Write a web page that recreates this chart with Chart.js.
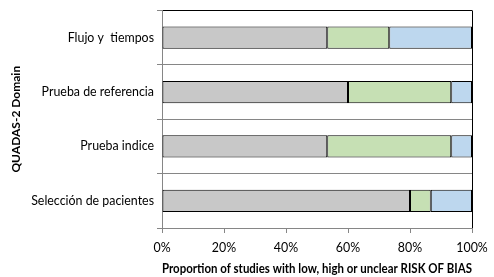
<!DOCTYPE html>
<html>
<head>
<meta charset="utf-8">
<script src="https://cdn.jsdelivr.net/npm/chart.js@4.4.0/dist/chart.umd.min.js"></script>
<style>
  html, body { margin: 0; padding: 0; background: #fff; }
  #wrap { width: 494px; height: 277px; }
</style>
</head>
<body>
<div id="wrap"><canvas id="chart1"></canvas></div>
<script>
// QUADAS-2 domains, top to bottom
const domains = ['Flujo y  tiempos', 'Prueba de referencia', 'Prueba indice', 'Selección de pacientes'];
const lowRisk = [53.3, 60.0, 53.3, 80.0];
const highRisk = [20.0, 33.3, 40.0, 6.7];
const unclearRisk = [26.7, 6.7, 6.7, 13.3];
const xTicks = [0, 20, 40, 60, 80, 100];

Chart.defaults.font.family = 'Lato, "Open Sans", sans-serif';
Chart.defaults.font.size = 12;
Chart.defaults.color = '#000';

const barStyle = {
    borderColor: '#000',
    borderWidth: 1,
    borderSkipped: false,
    barPercentage: 0.41,
    categoryPercentage: 1.0,
};

const chart1 = new Chart(document.querySelector('#chart1'), {
    type: 'bar',
    data: {
        labels: domains,
        datasets: [
            { label: 'Low', data: lowRisk, backgroundColor: '#c8c8c8', ...barStyle },
            { label: 'High', data: highRisk, backgroundColor: '#c6e0b4', ...barStyle },
            { label: 'Unclear', data: unclearRisk, backgroundColor: '#bdd7ee', ...barStyle },
        ]
    },
    options: {
        indexAxis: 'y',
        responsive: true,
        maintainAspectRatio: false,
        animation: false,
        layout: { padding: { left: 9, right: 22, top: 5, bottom: 0 } },
        scales: {
            x: {
                stacked: true,
                min: 0,
                max: 100,
                afterBuildTicks: (scale) => { scale.ticks = xTicks.map(v => ({ value: v })); },
                afterFit: (scale) => {
                    scale.height = 49;
                    scale.paddingLeft = 0;
                    scale.paddingRight = 0;
                },
                border: { color: '#868686' },
                grid: {
                    color: (ctx) => ctx.tick && ctx.tick.value === 100 ? '#000' : 'rgba(0,0,0,0)',
                    tickColor: '#868686',
                    tickLength: 5,
                },
                ticks: {
                    padding: 8,
                    font: { size: 12.4 },
                    callback: (v) => v + '%',
                },
                title: {
                    display: true,
                    text: 'Proportion of studies with low, high or unclear RISK OF BIAS',
                    font: { weight: 'bold', size: 13 },
                    padding: { top: 2, bottom: 0 },
                },
            },
            y: {
                stacked: true,
                afterFit: (scale) => { scale.width = 153; },
                border: { color: '#868686' },
                grid: {
                    offset: true,
                    color: (ctx) => ctx.index === 0 ? '#000' : '#868686',
                    tickColor: '#868686',
                    tickLength: 5,
                },
                ticks: { padding: 3, font: { size: 12.4 } },
                title: {
                    display: true,
                    text: 'QUADAS-2 Domain',
                    font: { weight: 'bold', size: 12 },
                    padding: { top: 0, bottom: 0 },
                },
            }
        },
        plugins: {
            legend: { display: false },
            tooltip: { enabled: false },
        }
    },
});
</script>
</body>
</html>
